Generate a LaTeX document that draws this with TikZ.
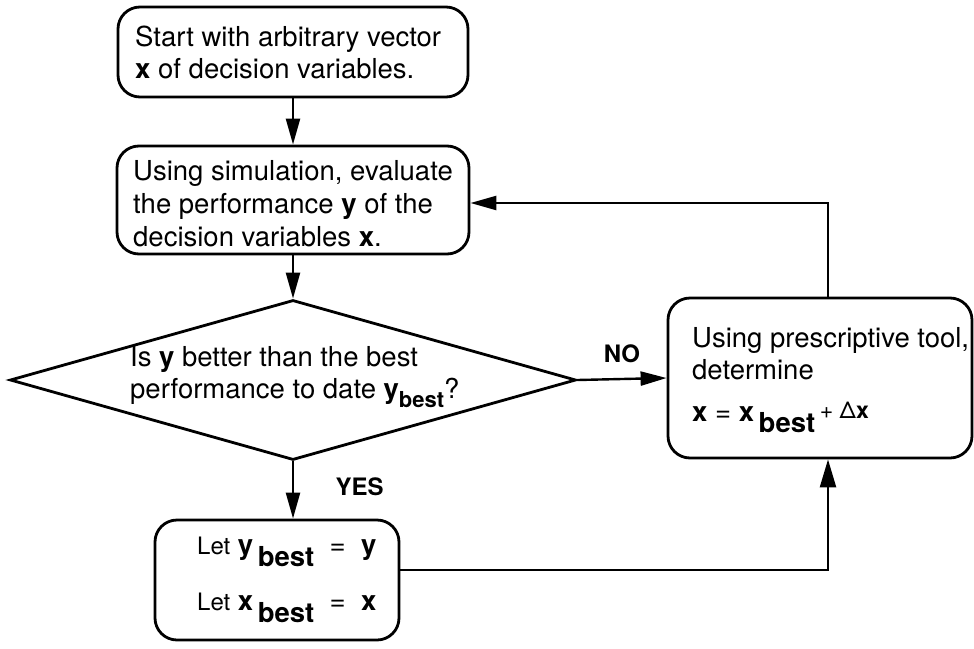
\documentclass[tikz,border=0pt]{standalone}
\usepackage{fontspec}
\setmainfont{TeX Gyre Heros}
\usetikzlibrary{arrows.meta,shapes.geometric}
\newcommand{\bsub}[1]{\raisebox{-0.42em}{\textbf{#1}}}
\newcommand{\ssub}[1]{\raisebox{-0.3em}{\fontsize{22}{24}\selectfont\textbf{#1}}}
\begin{document}
\begin{tikzpicture}[x=1pt,y=-1pt,
  every node/.style={font=\fontsize{27.5}{32}\selectfont},
  rbox/.style={draw,line width=2.8pt,rounded corners=22pt,inner sep=0pt},
  txt/.style={anchor=west,inner sep=0pt,align=left},
  conn/.style={line width=2.4pt,-{Triangle[length=26pt,width=14pt]}},
  lbl/.style={font=\fontsize{24}{28}\selectfont\bfseries}]
\useasboundingbox (0,0) rectangle (974,648);
% boxes
\node[rbox,minimum width=350,minimum height=90] (b1) at (293,52) {};
\node[txt] (t1) at (135,52) {Start with arbitrary vector\\\textbf{x} of decision variables.};
\node[rbox,minimum width=352,minimum height=108] (b2) at (293,200) {};
\node[txt,font=\fontsize{27.5}{33}\selectfont] (t2) at (133,204) {Using simulation, evaluate\\the performance \textbf{y} of the\\decision variables \textbf{x}.};
\node[draw,diamond,line width=2.8pt,inner sep=0pt,minimum width=566,minimum height=160] (d) at (293,380) {};
\node[txt] (td) at (130,377) {Is \textbf{y} better than the best\\performance to date \textbf{y}\ssub{best}?};
\node[rbox,minimum width=304,minimum height=160] (b3) at (820,378) {};
\node[txt] (t3) at (692,380) {Using prescriptive tool,\\determine\\[10pt]\textbf{x} = \textbf{x}\,\bsub{best}\,{\fontsize{23}{24}\selectfont\raisebox{3pt}{+ Δ\textbf{x}}}};
\node[rbox,minimum width=244,minimum height=120] (b4) at (277,580) {};
\node[txt] (t4) at (197,580) {{\fontsize{24}{28}\selectfont Let} \textbf{y}\,\bsub{best}\ \ = \ \textbf{y}\\[24pt]{\fontsize{24}{28}\selectfont Let} \textbf{x}\,\bsub{best}\ \ = \ \textbf{x}};
% connectors
\draw[conn] (b1.south) -- (b2.north);
\draw[conn] (b2.south) -- (d.north);
\draw[conn] (d.east) -- node[lbl,above=12pt] (no) {NO} (b3.west);
\draw[conn] (d.south) -- node[lbl,right=38pt,pos=0.45] (yes) {YES} (d.south |- b4.north);
\coordinate (b3t) at ([xshift=8pt]b3.north);
\coordinate (b3b) at ([xshift=8pt]b3.south);
\coordinate (b2r) at ([yshift=-3pt]b2.east);
\coordinate (b4r) at ([yshift=10pt]b4.east);
\draw[line width=2.4pt,-{Triangle[length=26pt,width=14pt]}] (b3t) |- (b2r);
\draw[line width=2.4pt,-{Triangle[length=28pt,width=16pt]}] (b4r) -| (b3b);
\end{tikzpicture}
\end{document}
